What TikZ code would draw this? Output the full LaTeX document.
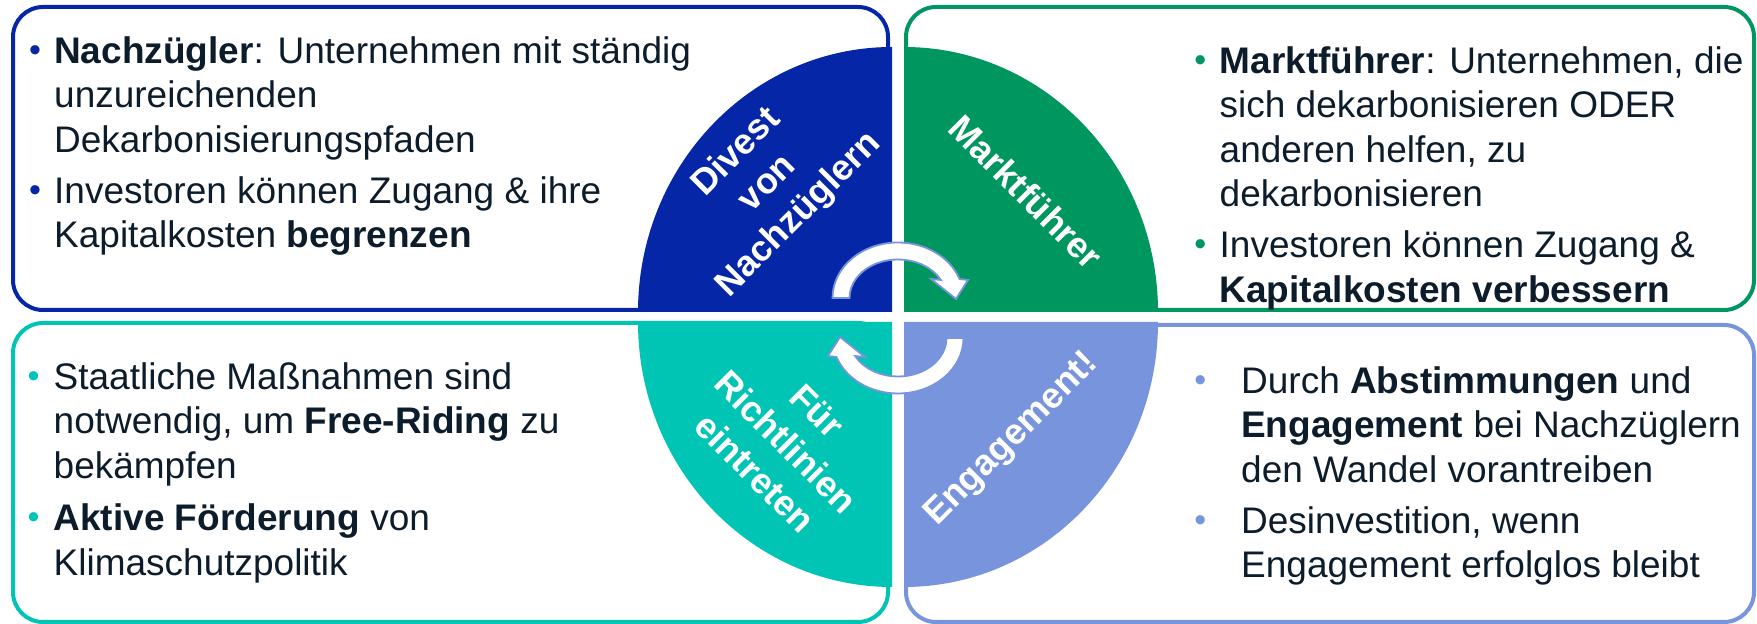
\documentclass[tikz,border=0pt]{standalone}
\usepackage{fontspec}
\setmainfont{Liberation Sans}
\usepackage{tikz}
\usetikzlibrary{positioning, calc}
\usepackage{xcolor}

\definecolor{divblue}{RGB}{6,38,168}
\definecolor{marktgreen}{RGB}{0,150,96}
\definecolor{richtteal}{RGB}{0,197,181}
\definecolor{engviolet}{RGB}{120,148,220}
\definecolor{textdark}{RGB}{12,28,43}

\newcommand{\dotmark}[2]{\makebox[#1][c]{\textcolor{#2}{\fontsize{34}{34}\selectfont\raisebox{2pt}{•}}}}

\begin{document}
\begin{tikzpicture}[x=1pt, y=1pt,
	panel/.style={draw=#1, line width=4pt, rounded corners=30pt, outer sep=0pt, inner sep=0pt},
	itemtext/.style={inner sep=0pt, text=textdark, font=\fontsize{37}{44.5}\selectfont},
	quadlabel/.style={text=white, align=center, font=\fontsize{36}{44}\selectfont\bfseries},
	turnarrow/.style={fill=white, draw=engviolet, line width=1.8pt}]
	\useasboundingbox (0,0) rectangle (1757,624);
	
	\node[panel=divblue, minimum width=875pt, minimum height=303pt] (nachpanel) at (450.5,465.5) {};
	\node[panel=marktgreen, minimum width=848pt, minimum height=303pt] (marktpanel) at (1330,465.5) {};
	\node[panel=richtteal, minimum width=875pt, minimum height=299pt] (richtpanel) at (450.5,151.5) {};
	\node[panel=engviolet, minimum width=848pt, minimum height=297pt] (engpanel) at (1330,150.5) {};
	
	% quarter circles
	\fill[divblue] (892,312) -- (638,312) arc[start angle=180, end angle=90, x radius=254, y radius=265] -- cycle;
	\fill[marktgreen] (904,312) -- (1158,312) arc[start angle=0, end angle=90, x radius=254, y radius=265] -- cycle;
	\fill[richtteal] (892,302) -- (638,302) arc[start angle=180, end angle=270, x radius=254, y radius=265] -- cycle;
	\fill[engviolet] (904,302) -- (1158,302) arc[start angle=0, end angle=-90, x radius=254, y radius=265] -- cycle;
	
	\node[quadlabel, rotate=45] (divlabel) at (768,440) {Divest\\von\\Nachzüglern};
	\node[quadlabel, rotate=-45] (marktlabel) at (1026,432) {Marktführer};
	\node[quadlabel, rotate=-45] (richtlabel) at (786,182) {Für\\Richtlinien\\eintreten};
	\node[quadlabel, rotate=45] (englabel) at (1012,184) {Engagement!};
	
	% arrows in the middle
	\foreach \r in {0,180}{
		\begin{scope}[shift={(898,306)}, rotate=\r]
			\filldraw[turnarrow] (-65.5,20) arc[start angle=180, end angle=20, x radius=65.5, y radius=55.5]
			-- (70,38) -- (58,19) -- (33,39)
			-- (42.82,38.07) arc[start angle=28, end angle=180, x radius=48.5, y radius=38.5] -- cycle;
		\end{scope}
	}
	
	\node[itemtext, below right=25pt and 3pt of nachpanel.north west] (nachtext) {%
		\begin{tabular}{@{}l@{}l@{}}
			\dotmark{38pt}{divblue} & \textbf{Nachzügler}: Unternehmen mit ständig\\
			& unzureichenden\\
			& Dekarbonisierungspfaden\\[6.5pt]
			\dotmark{38pt}{divblue} & Investoren können Zugang \& ihre\\
			& Kapitalkosten \textbf{begrenzen}
	\end{tabular}};
	\node[itemtext, below right=35pt and 274.5pt of marktpanel.north west] (markttext) {%
		\begin{tabular}{@{}l@{}l@{}}
			\dotmark{39pt}{marktgreen} & \textbf{Marktführer}: Unternehmen, die\\
			& sich dekarbonisieren ODER\\
			& anderen helfen, zu\\
			& dekarbonisieren\\[6.5pt]
			\dotmark{39pt}{marktgreen} & Investoren können Zugang \&\\
			& \textbf{Kapitalkosten verbessern}
	\end{tabular}};
	\node[itemtext, below right=35pt and 0.5pt of richtpanel.north west] (richttext) {%
		\begin{tabular}{@{}l@{}l@{}}
			\dotmark{40pt}{richtteal} & Staatliche Maßnahmen sind\\
			& notwendig, um \textbf{Free-Riding} zu\\
			& bekämpfen\\[8pt]
			\dotmark{40pt}{richtteal} & \textbf{Aktive Förderung} von\\
			& Klimaschutzpolitik
	\end{tabular}};
	\node[itemtext, below right=37pt and 253pt of engpanel.north west] (engtext) {%
		\begin{tabular}{@{}l@{}l@{}}
			\dotmark{82pt}{engviolet} & Durch \textbf{Abstimmungen} und\\
			& \textbf{Engagement} bei Nachzüglern\\
			& den Wandel vorantreiben\\[6.5pt]
			\dotmark{82pt}{engviolet} & Desinvestition, wenn\\
			& Engagement erfolglos bleibt
	\end{tabular}};
\end{tikzpicture}
\end{document}
